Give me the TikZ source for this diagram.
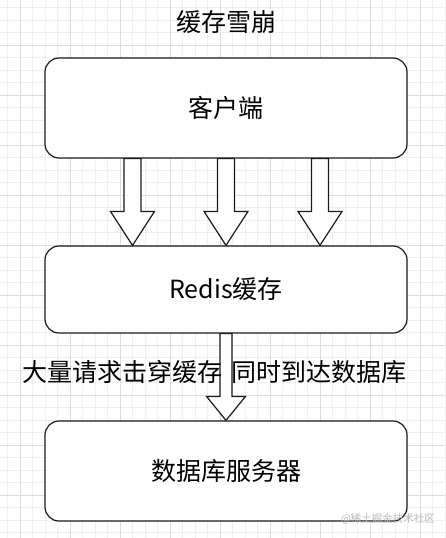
\documentclass[tikz,border=0pt]{standalone}
\usepackage{fontspec}
\setmainfont{Noto Sans CJK SC}
\usetikzlibrary{calc}
\definecolor{gridminor}{HTML}{EFEFEF}
\definecolor{gridmajor}{HTML}{DCDCDC}
\definecolor{ink}{HTML}{1A1A1A}
\tikzset{
  box/.style={draw=ink, line width=1.2pt, fill=white, rounded corners=14pt,
    minimum width=362pt, inner sep=0pt, font=\fontsize{25}{29}\selectfont},
  blockarrow/.style={draw=ink, line width=1.2pt, fill=white, line join=miter},
  lbl/.style={inner sep=0pt, font=\fontsize{25}{29}\selectfont},
}
\newcommand{\blkarrow}[5]{%
  \draw[blockarrow] ($(#1)+(-#3,0)$) -- ($(#2)+(-#3,-#5)$) -- ($(#2)+(-#4,-#5)$)
    -- (#2) -- ($(#2)+(#4,-#5)$) -- ($(#2)+(#3,-#5)$) -- ($(#1)+(#3,0)$) -- cycle;}
\begin{document}
\begin{tikzpicture}[x=1pt,y=-1pt]
\useasboundingbox (0,0) rectangle (445,538);
\fill[white] (0,0) rectangle (445,538);
% grid
\foreach \g in {7.5,20,...,445} \draw[gridminor, line width=0.6pt] (\g,0) -- (\g,538);
\foreach \g in {7.5,20,...,538} \draw[gridminor, line width=0.6pt] (0,\g) -- (445,\g);
\foreach \g in {20,70,...,445} \draw[gridmajor, line width=0.6pt] (\g,0) -- (\g,538);
\foreach \g in {45,95,...,538} \draw[gridmajor, line width=0.6pt] (0,\g) -- (445,\g);
% title
\node[lbl] (title) at (226,22) {缓存雪崩};
% boxes
\node[box, minimum height=100pt] (c) at (226,108) {客户端};
\node[box, minimum height=87pt] (r) at (226,289.5) {Redis缓存};
\node[box, minimum height=100pt] (d) at (226,471) {数据库服务器};
% block arrows client -> redis
\coordinate (a1t) at ($(c.south)+(-93.5,0)$);
\coordinate (a1b) at ($(r.north)+(-93.5,0)$);
\coordinate (a2t) at (c.south);
\coordinate (a2b) at (r.north);
\coordinate (a3t) at ($(c.south)+(94,0)$);
\coordinate (a3b) at ($(r.north)+(94,0)$);
\blkarrow{a1t}{a1b}{8.5}{22}{34}
\blkarrow{a2t}{a2b}{8.5}{22}{34}
\blkarrow{a3t}{a3b}{8.5}{22}{34}
% redis -> db
\blkarrow{r.south}{d.north}{6}{19.5}{24}
\node[lbl] (label) at (214,372) {大量请求击穿缓存\hspace{9pt}同时到达数据库};
% watermark
\node[inner sep=0pt, text=gray!55, font=\fontsize{10.5}{12}\selectfont] (wm) at (388,519) {@稀土掘金技术社区};
\end{tikzpicture}
\end{document}
